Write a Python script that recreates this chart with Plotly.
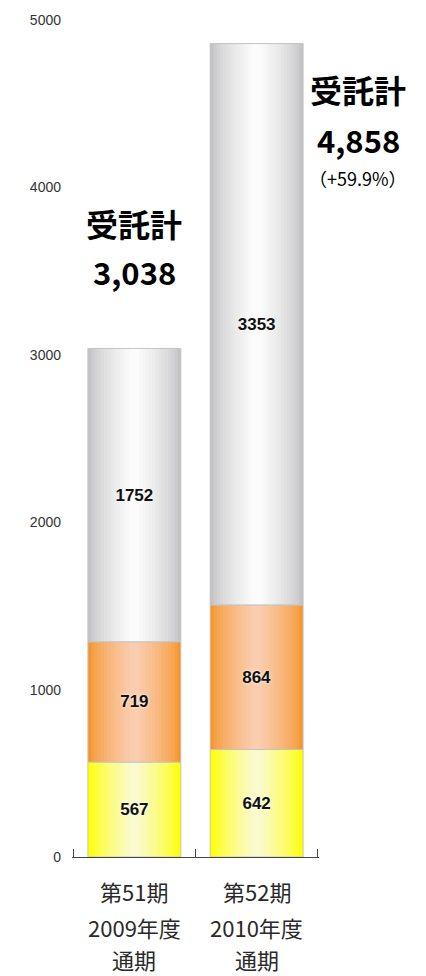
import plotly.graph_objects as go

# ---- data ----
period_labels = ["第51期", "第52期"]
year_labels = ["2009年度", "2010年度"]
term_labels = ["通期", "通期"]
bottom_vals = [567, 642]
middle_vals = [719, 864]
top_vals = [1752, 3353]
total_texts = ["3,038", "4,858"]
growth_text = "（+59.9%）"
total_title = "受託計"
y_ticks = [0, 1000, 2000, 3000, 4000, 5000]

# ---- styling ----
BAR_W = 0.76
N = 14
XR = [-0.51, 1.51]
YR = [0, 5000]
xs = list(range(len(period_labels)))
segments = [
    (bottom_vals, (255, 255, 0), (250, 250, 205)),
    (middle_vals, (245, 150, 45), (250, 205, 175)),
    (top_vals, (195, 195, 197), (252, 252, 252)),
]


def mix(a, b, t):
    return "rgb(%d,%d,%d)" % tuple(round(a[i] + (b[i] - a[i]) * t) for i in range(3))


def px(x):
    return (x - XR[0]) / (XR[1] - XR[0])


def py(y):
    return (y - YR[0]) / (YR[1] - YR[0])


fig = go.Figure()
base = [0] * len(xs)
for vals, edge, center in segments:
    for k in range(N):
        t = k / (N - 1)
        w = BAR_W * (1 - 0.9 * t)
        col = mix(edge, center, t ** 0.7)
        fig.add_trace(go.Bar(
            x=xs, y=vals, base=base, width=w, marker_color=col,
            marker_line_width=0, hoverinfo="skip", showlegend=False))
    fig.add_trace(go.Bar(
        x=xs, y=vals, base=base, width=BAR_W,
        marker=dict(color="rgba(0,0,0,0)", line=dict(color="#c4c4c4", width=1)),
        text=[str(v) for v in vals], textposition="inside", insidetextanchor="middle",
        textangle=0, constraintext="none",
        textfont=dict(family="Liberation Sans", size=17, color="#111", weight="bold",
                      shadow="0px 0px 3px white"),
        hoverinfo="skip", showlegend=False))
    base = [b + v for b, v in zip(base, vals)]

ann = []


def add(x, y, text, font):
    ann.append(dict(x=px(x), y=py(y), xref="paper", yref="paper", text=text,
                    showarrow=False, xanchor="center", yanchor="middle", font=font,
                    borderpad=0))


# category labels (three lines)
cat_font = dict(family="Noto Sans CJK JP", size=22, color="#2a2a2a")
for i in xs:
    add(i, -202, period_labels[i], cat_font)
    add(i, -420, year_labels[i], cat_font)
    add(i, -612, term_labels[i], cat_font)

# totals
big = dict(family="Noto Sans CJK JP", size=32, color="#000", weight="bold")
num = dict(family="Noto Sans CJK JP", size=31, color="#000", weight="bold")
add(0, 3787, total_title, big)
add(0, 3496, total_texts[0], num)
add(1.83, 4590, total_title, big)
add(1.83, 4287, total_texts[1], num)
add(1.83, 4055, growth_text, dict(family="Noto Sans CJK JP", size=18, color="#000"))

fig.update_layout(
    width=426, height=976,
    margin=dict(l=72, r=107, t=16, b=119),
    paper_bgcolor="white", plot_bgcolor="white",
    barmode="overlay",
    annotations=ann,
    xaxis=dict(range=XR, tickvals=[-0.5, 0.5, 1.5], showticklabels=False,
               ticks="inside", ticklen=8, tickcolor="#444", showline=True,
               linecolor="#444", linewidth=1, showgrid=False, zeroline=False),
    yaxis=dict(range=YR, tickvals=y_ticks, showgrid=False, zeroline=False,
               showline=False, ticks="", ticklabelstandoff=10,
               tickfont=dict(family="Liberation Sans", size=14, color="#333")),
)

fig.write_html("out.html")
